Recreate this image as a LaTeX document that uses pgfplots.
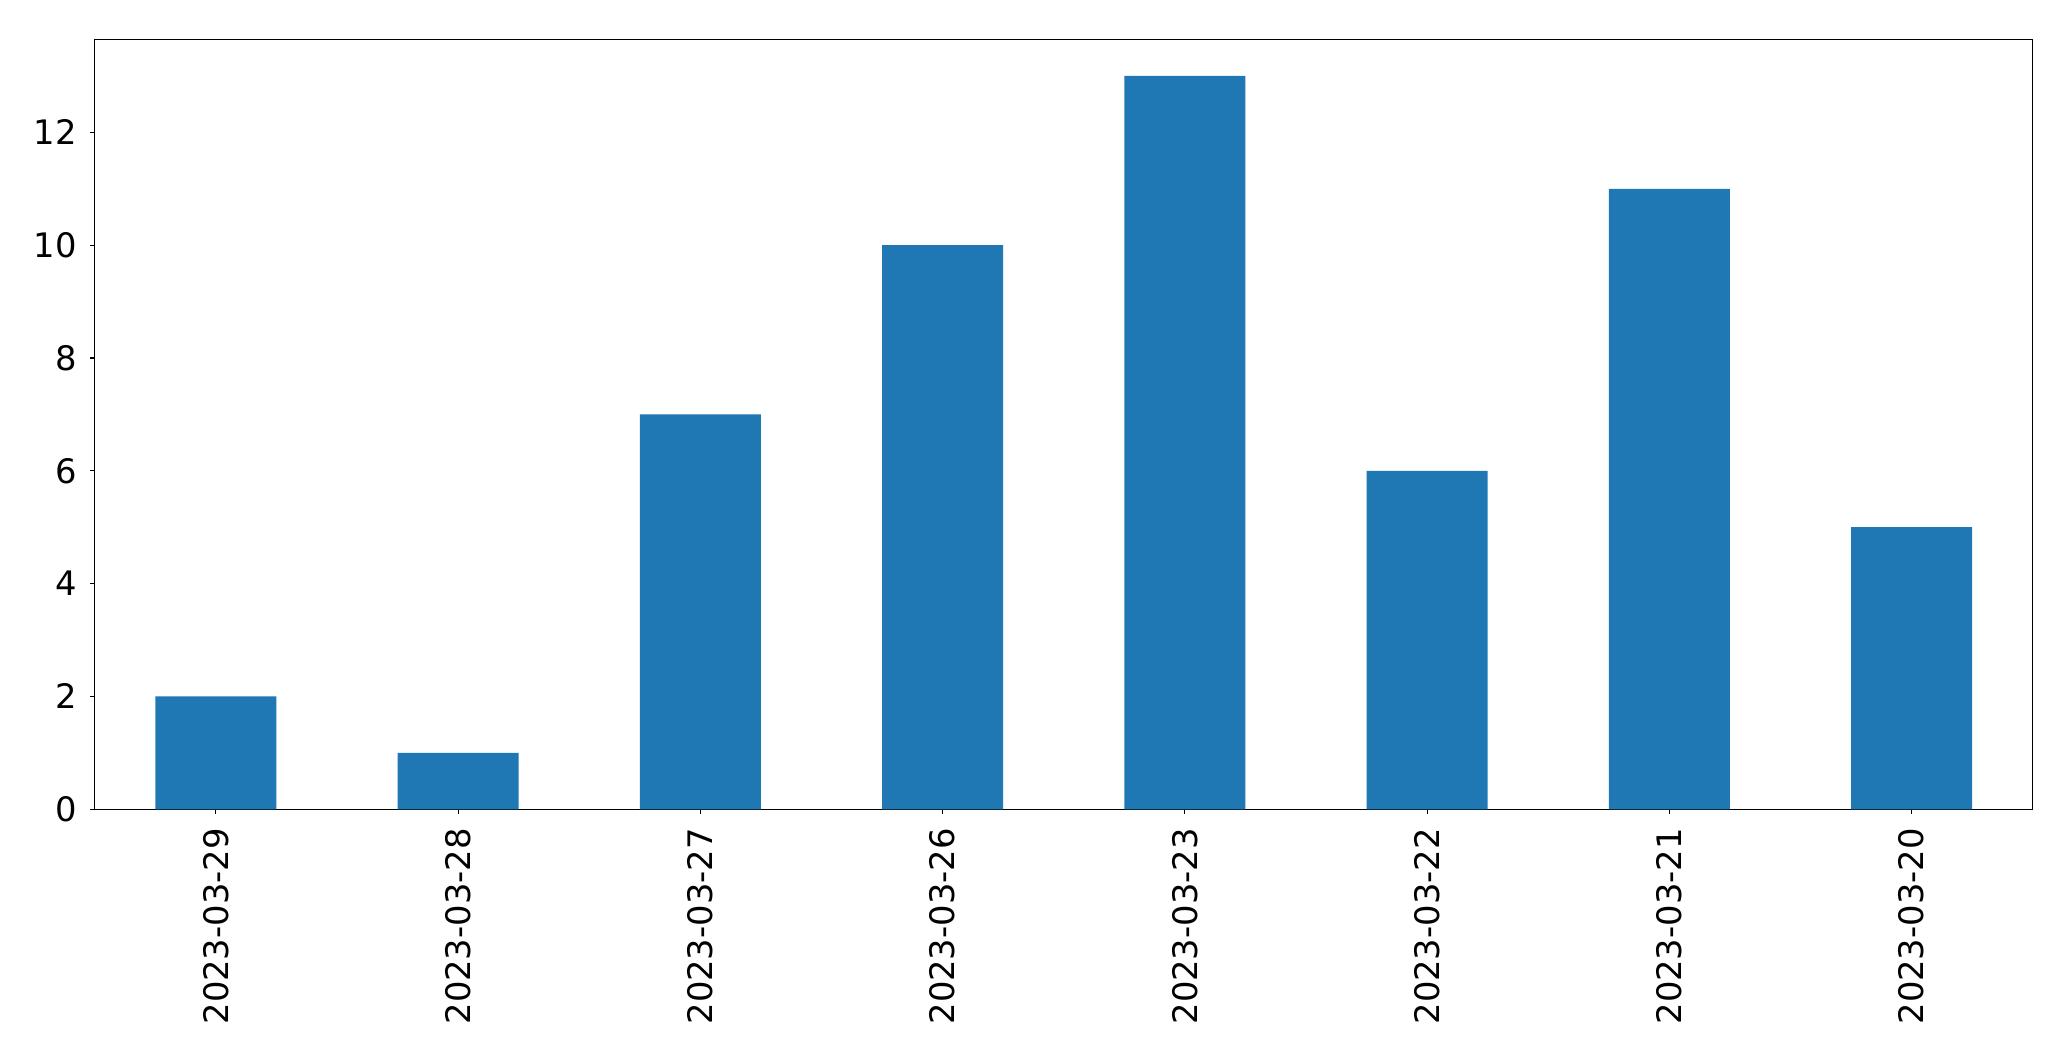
\documentclass[border=0pt]{standalone}
\usepackage{fontspec}
\setmainfont{DejaVu Sans}
\usepackage{pgfplots}
\pgfplotsset{compat=1.18}
\definecolor{mplblue}{HTML}{1F77B4}
\begin{document}
\begin{tikzpicture}
\begin{axis}[
  scale only axis,
  width=1395.4pt, height=554.4pt,
  xmin=-0.5, xmax=7.5, ymin=0, ymax=13.65,
  axis line style={line width=0.8pt},
  tick align=outside, xtick pos=bottom, ytick pos=left,
  major tick length=3.5pt,
  tick style={line width=0.8pt, black},
  xtick=data,
  xticklabels={2023-03-29,2023-03-28,2023-03-27,2023-03-26,2023-03-23,2023-03-22,2023-03-21,2023-03-20},
  ytick={0,2,4,6,8,10,12},
  /pgf/number format/assume math mode=true,
  ticklabel style={font=\fontsize{24.3}{29}\selectfont},
  xticklabel style={rotate=90, anchor=east, inner xsep=10pt, inner ysep=0pt},
  yticklabel style={anchor=east, inner sep=0pt, xshift=-9.4pt},
]
\addplot[ybar, bar width=0.5, fill=mplblue, draw=none] coordinates {
(0,2) (1,1) (2,7) (3,10) (4,13) (5,6) (6,11) (7,5)
};
\end{axis}
\path ([xshift=-68.2pt,yshift=-181.2pt]current axis.south west) rectangle ([xshift=27.6pt,yshift=28.3pt]current axis.north east);
\end{tikzpicture}
\end{document}
